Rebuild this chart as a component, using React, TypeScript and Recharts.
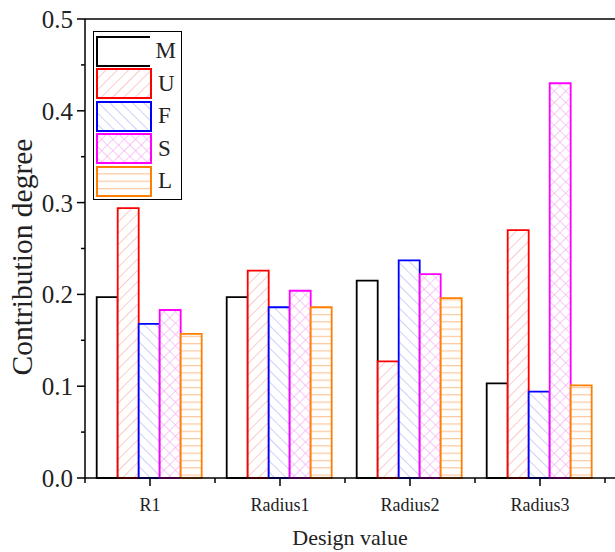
import {
	BarChart,
	Bar,
	XAxis,
	YAxis,
	Legend,
	ReferenceLine,
} from "recharts";

const CATEGORIES = ["R1", "Radius1", "Radius2", "Radius3"];
const M_VALUES = [0.197, 0.197, 0.215, 0.103];
const U_VALUES = [0.294, 0.226, 0.127, 0.27];
const F_VALUES = [0.168, 0.186, 0.237, 0.094];
const S_VALUES = [0.183, 0.204, 0.222, 0.43];
const L_VALUES = [0.157, 0.186, 0.196, 0.101];
const Y_TICKS = [0, 0.05, 0.1, 0.15, 0.2, 0.25, 0.3, 0.35, 0.4, 0.45, 0.5];

const SERIES = [
	{ key: "M", stroke: "#000000", fill: "#ffffff" },
	{ key: "U", stroke: "#ff0000", fill: "url(#pat-u)" },
	{ key: "F", stroke: "#0000ff", fill: "url(#pat-f)" },
	{ key: "S", stroke: "#ff00ff", fill: "url(#pat-s)" },
	{ key: "L", stroke: "#ff8000", fill: "url(#pat-l)" },
];

const data = CATEGORIES.map((name, i) => ({
	name,
	M: M_VALUES[i],
	U: U_VALUES[i],
	F: F_VALUES[i],
	S: S_VALUES[i],
	L: L_VALUES[i],
}));

const FONT = "'Liberation Serif', 'Times New Roman', serif";
const W = 615;
const H = 552;
const Y_AXIS_W = 85;
const PAD_RIGHT = 10;
const BAND = (W - Y_AXIS_W - PAD_RIGHT) / CATEGORIES.length;

const YTick = (props: any) => {
	const { x, y, payload } = props;
	const v = payload.value as number;
	const major = Math.round(v * 100) % 10 === 0;
	return (
		<g>
			<line x1={x} x2={x - (major ? 8 : 4)} y1={y} y2={y} stroke="#000" strokeWidth={1.5} />
			{major && (
				<text x={x - 12} y={y} dy="0.36em" textAnchor="end" fontSize={25} fontFamily={FONT} fill="#222">
					{v.toFixed(1)}
				</text>
			)}
		</g>
	);
};

const XTick = (props: any) => {
	const { x, y, payload, index } = props;
	const half = BAND / 2;
	return (
		<g>
			<line x1={x} x2={x} y1={y} y2={y + 8} stroke="#000" strokeWidth={1.5} />
			<line x1={x - half} x2={x - half} y1={y} y2={y + 5} stroke="#000" strokeWidth={1.5} />
			{index === CATEGORIES.length - 1 && (
				<line x1={x + half} x2={x + half} y1={y} y2={y + 5} stroke="#000" strokeWidth={1.5} />
			)}
			<text x={x} y={y + 33} textAnchor="middle" fontSize={18} fontFamily={FONT} fill="#222">
				{payload.value}
			</text>
		</g>
	);
};

const LegendBox = (props: any) => {
	const payload = props.payload || [];
	return (
		<div
			style={{
				border: "1.5px solid #000",
				background: "#fff",
				padding: "3px 5px 1px 2px",
				width: 80,
			}}
		>
			{SERIES.map((s) => {
				const entry = payload.find((p: any) => p.dataKey === s.key);
				return (
					<div key={s.key} style={{ display: "flex", alignItems: "center", height: 32.5 }}>
						<svg width={56} height={31} style={{ display: "block" }}>
							<rect x={1} y={1} width={54} height={29} fill={s.fill} stroke={s.stroke} strokeWidth={2} />
						</svg>
						<span
							style={{
								fontFamily: FONT,
								fontSize: 23,
								color: "#222",
								marginLeft: 6,
								lineHeight: "22px",
							}}
						>
							{entry ? entry.value : s.key}
						</span>
					</div>
				);
			})}
		</div>
	);
};

export default function App() {
	return (
		<div
			style={{
				position: "absolute",
				left: 0,
				top: 0,
				width: W,
				height: H,
				overflow: "hidden",
				background: "#fff",
			}}
		>
			<BarChart
				width={W}
				height={H}
				data={data}
				margin={{ top: 19, right: 0, left: 0, bottom: 0 }}
				barCategoryGap="9%"
				barGap={0}
			>
				<defs>
					<pattern id="pat-u" width={8} height={8} patternUnits="userSpaceOnUse" patternTransform="rotate(45)">
						<rect width={8} height={8} fill="#fff" />
						<line x1={0} y1={0} x2={0} y2={8} stroke="#f6a8a8" strokeWidth={1.2} />
					</pattern>
					<pattern id="pat-f" width={8} height={8} patternUnits="userSpaceOnUse" patternTransform="rotate(-45)">
						<rect width={8} height={8} fill="#fff" />
						<line x1={0} y1={0} x2={0} y2={8} stroke="#aab0f4" strokeWidth={1.2} />
					</pattern>
					<pattern id="pat-s" width={8} height={8} patternUnits="userSpaceOnUse" patternTransform="rotate(45)">
						<rect width={8} height={8} fill="#fff" />
						<line x1={0} y1={0} x2={0} y2={8} stroke="#f4a6f4" strokeWidth={1.2} />
						<line x1={0} y1={0} x2={8} y2={0} stroke="#f4a6f4" strokeWidth={1.2} />
					</pattern>
					<pattern id="pat-l" width={8} height={7.3} patternUnits="userSpaceOnUse">
						<rect width={8} height={7.3} fill="#fff" />
						<line x1={0} y1={0.6} x2={8} y2={0.6} stroke="#fcc89c" strokeWidth={1.2} />
					</pattern>
				</defs>
				<XAxis
					dataKey="name"
					height={H - 478}
					padding={{ left: 0, right: PAD_RIGHT }}
					tickSize={0}
					tickMargin={0}
					tickLine={false}
					axisLine={{ stroke: "#000", strokeWidth: 1.5 }}
					tick={<XTick />}
					interval={0}
					label={{
						content: (p: any) => (
							<text
								x={p.viewBox.x + 265}
								y={545}
								textAnchor="middle"
								fontSize={22}
								fontFamily={FONT}
								fill="#222"
							>
								Design value
							</text>
						),
					}}
				/>
				<YAxis
					width={Y_AXIS_W}
					domain={[0, 0.5]}
					ticks={Y_TICKS}
					interval={0}
					tickSize={0}
					tickMargin={0}
					tickLine={false}
					axisLine={{ stroke: "#000", strokeWidth: 1.5 }}
					tick={<YTick />}
					label={{
						content: () => (
							<text
								x={22}
								y={257}
								transform="rotate(-90 22 257)"
								textAnchor="middle"
								dominantBaseline="central"
								fontSize={29.5}
								fontFamily={FONT}
								fill="#222"
							>
								Contribution degree
							</text>
						),
					}}
				/>
				<ReferenceLine y={0.5} stroke="#000" strokeWidth={1.5} />
				<Legend
					layout="vertical"
					align="center"
					verticalAlign="middle"
					wrapperStyle={{ left: 93, top: 31, width: "auto" }}
					content={<LegendBox />}
				/>
				{SERIES.map((s) => (
					<Bar
						key={s.key}
						dataKey={s.key}
						name={s.key}
						fill={s.fill}
						stroke={s.stroke}
						strokeWidth={1.8}
						isAnimationActive={false}
					/>
				))}
			</BarChart>
		</div>
	);
}
